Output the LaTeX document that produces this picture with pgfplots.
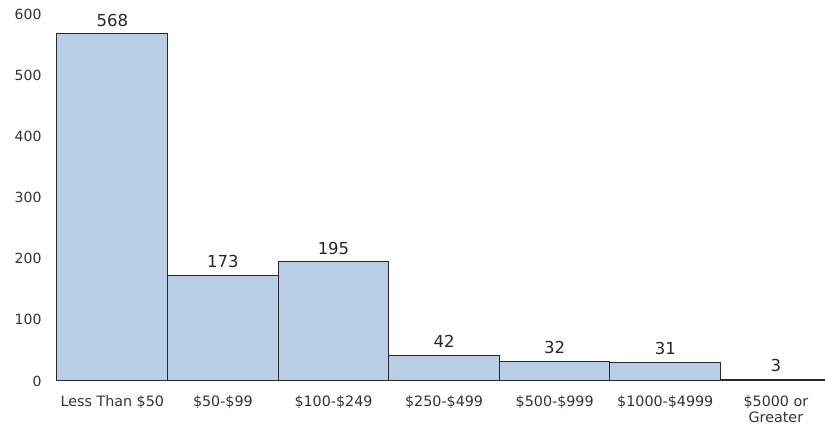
\documentclass[border=0pt]{standalone}
\usepackage{pgfplots}
\pgfplotsset{compat=1.18}
\usepackage{fontspec}
\setmainfont{DejaVu Sans}
\definecolor{barfill}{RGB}{185,205,228}
\definecolor{baredge}{RGB}{35,40,50}
\definecolor{ticktext}{RGB}{50,50,50}
\begin{document}
\begin{tikzpicture}[x=1pt,y=1pt]
\path[use as bounding box] (-57,-47) rectangle (768,381);
\begin{axis}[
  at={(0,0)}, anchor=south west,
  scale only axis,
  width=768pt, height=366.6pt,
  xmin=-0.5, xmax=6.444,
  ymin=0, ymax=600,
  clip=false,
  axis line style={draw=none},
  major tick length=0pt,
  ytick={0,100,200,300,400,500,600},
  xtick=data,
  xticklabels={Less Than \$50,\$50-\$99,\$100-\$249,\$250-\$499,\$500-\$999,\$1000-\$4999,{\$5000 or\\Greater}},
  xticklabel style={font=\fontsize{14.3}{16}\selectfont, text=ticktext, align=center, anchor=north, yshift=-11pt},
  yticklabel style={font=\fontsize{14}{15}\selectfont, text=ticktext, anchor=east, xshift=-12pt},
  /pgf/number format/assume math mode=true,
  ybar, bar width=1,
  nodes near coords,
  nodes near coords style={font=\fontsize{16.5}{18}\selectfont, text=black!85, anchor=south, inner sep=0pt, yshift=7pt},
]
\addplot[fill=barfill, draw=baredge, line width=1pt] coordinates {
(0,568) (1,173) (2,195) (3,42) (4,32) (5,31) (6,3)
};
\end{axis}
\end{tikzpicture}
\end{document}
